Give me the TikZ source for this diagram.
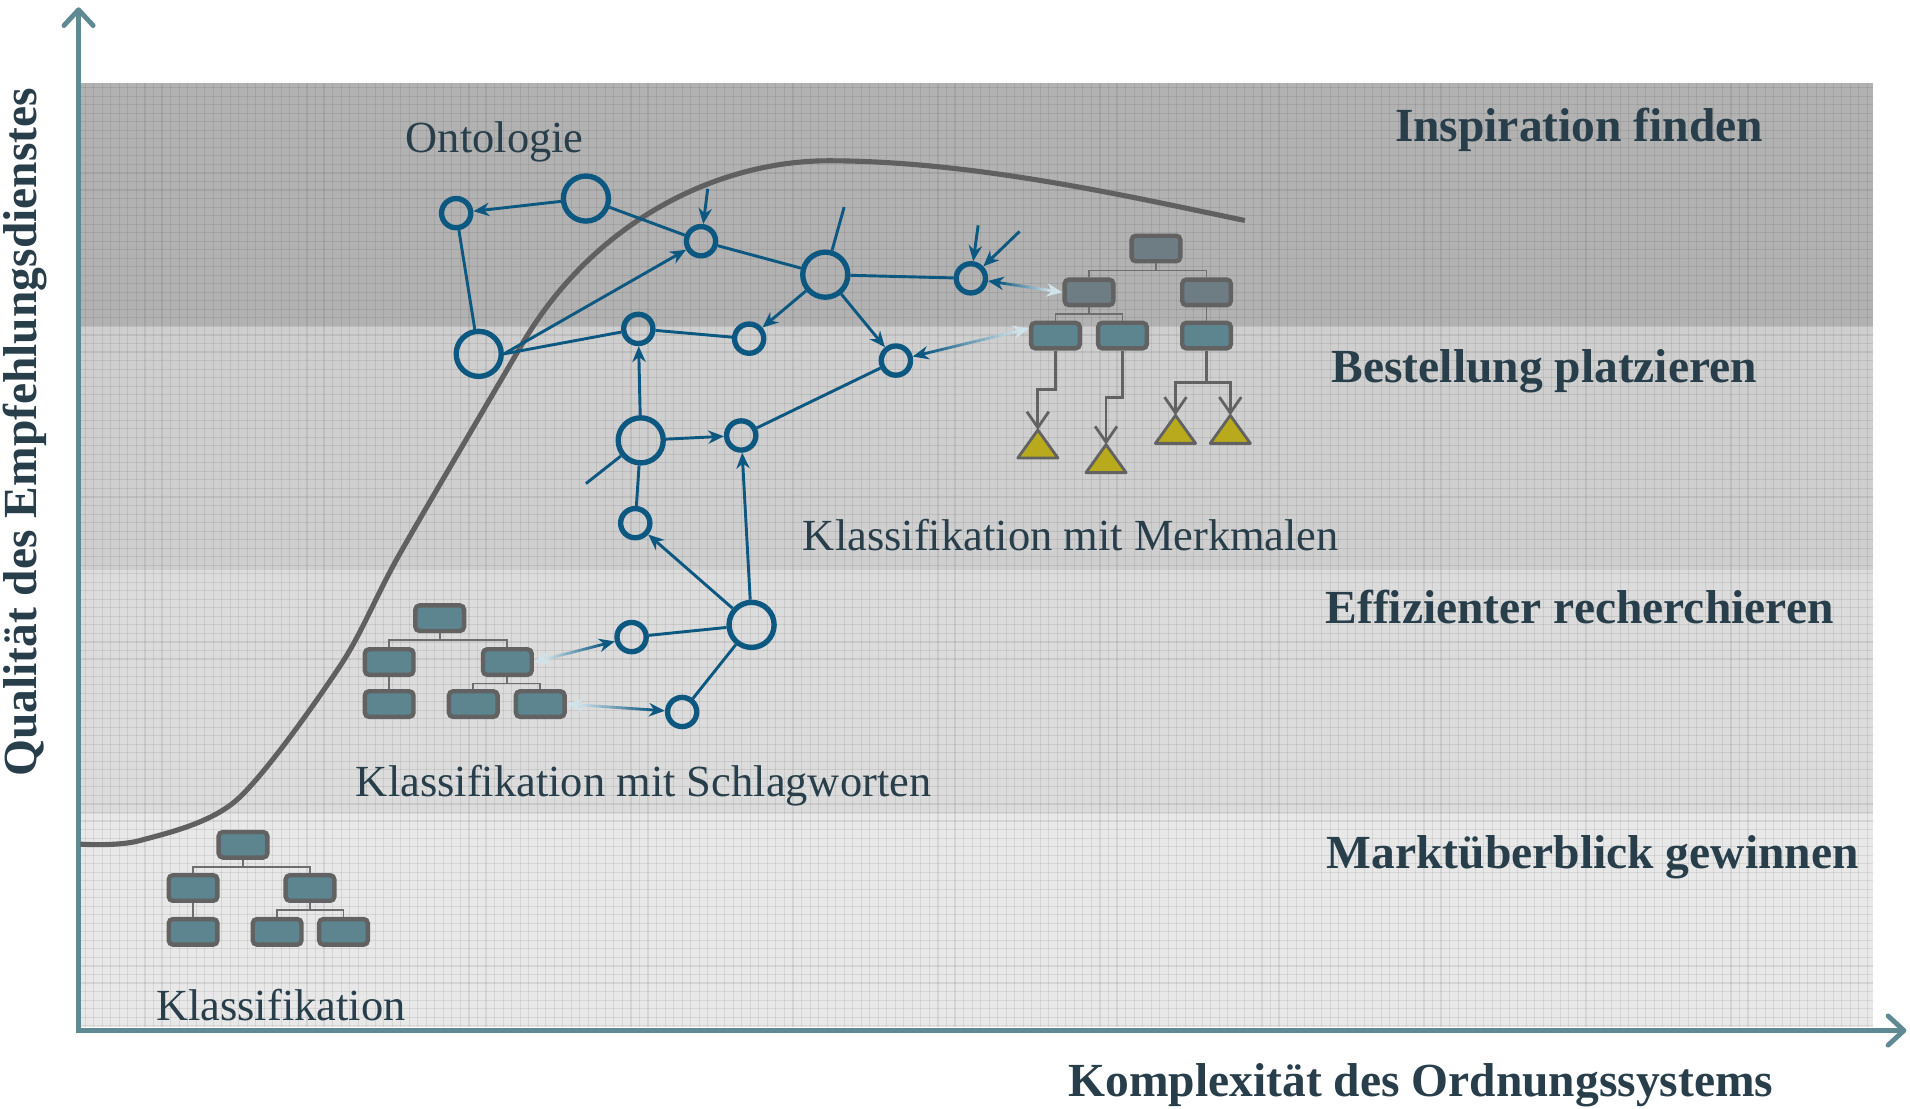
\documentclass[tikz,border=0pt]{standalone}
\usepackage{fontspec}
\setmainfont{Liberation Serif}
\usetikzlibrary{arrows.meta,calc}
\definecolor{nblue}{RGB}{12,88,128}
\definecolor{glight}{RGB}{208,226,234}
\definecolor{tdark}{RGB}{40,62,74}
\definecolor{axc}{RGB}{95,138,148}
\definecolor{boxteal}{RGB}{92,133,143}
\definecolor{boxgt}{RGB}{110,124,131}
\definecolor{boxgray}{RGB}{98,98,98}
\definecolor{congray}{RGB}{110,110,110}
\definecolor{olivey}{RGB}{184,170,28}
\definecolor{curvec}{RGB}{96,96,96}
\definecolor{bandA}{RGB}{178,178,178}
\definecolor{bandB}{RGB}{207,207,207}
\definecolor{bandC}{RGB}{220,220,220}
\definecolor{bandD}{RGB}{232,232,232}
\newcommand\gradlink[2]{%
  \path (#1) -- (#2) coordinate[pos=0] (gA) coordinate[pos=1] (gB);
  \coordinate (gA2) at ($(gA)!10pt!(gB)$);
  \coordinate (gB2) at ($(gB)!10pt!(gA)$);
  \foreach \k in {0,...,19}{%
    \pgfmathsetmacro\pa{\k/20}%
    \pgfmathsetmacro\pb{(\k+1.05)/20}%
    \pgfmathsetmacro\pc{100*(\k+0.5)/20}%
    \draw[line width=2.3pt, draw=nblue!\pc!glight] ($(gA2)!\pa!(gB2)$) -- ($(gA2)!\pb!(gB2)$);
  }
  \draw[ar] (gB2) -- (gB);
  \draw[ar, draw=glight, fill=glight] (gA2) -- (gA);
}
\begin{document}
\begin{tikzpicture}[x=1pt,y=-1pt,
  sn/.style={circle, draw=nblue, line width=4.4pt, minimum size=24pt, inner sep=0pt},
  ln/.style={sn, minimum size=37pt},
  ed/.style={draw=nblue, line width=2.4pt},
  ar/.style={ed, -{Stealth[length=13pt,width=11pt]}},
  tbox/.style={rectangle, rounded corners=3.5pt, fill=boxteal, draw=boxgray, line width=3.6pt, minimum width=40pt, minimum height=21pt, inner sep=0pt},
  gbox/.style={tbox, fill=boxgt},
  tcon/.style={draw=congray, line width=1.5pt},
  tarr/.style={draw=boxgray, line width=2.3pt, -{Straight Barb[length=13pt,width=18pt]}},
  tri/.style={fill=olivey, draw=boxgray, line width=2.3pt, line join=round},
  big/.style={font=\fontsize{39}{45}\selectfont\bfseries, text=tdark, inner sep=0pt},
  lab/.style={font=\fontsize{36.5}{42}\selectfont, text=tdark, inner sep=0pt},
  axis/.style={draw=axc, line width=4pt, -{Straight Barb[round,length=13pt,width=24pt]}},
  curvest/.style={draw=curvec, line width=4.2pt},
  gridl/.style={draw=black, opacity=0.08, line width=0.9pt}
]
\useasboundingbox (0,0) rectangle (1568,910);
% bands
\fill[bandA] (66.5,68) rectangle (1537.5,268);
\fill[bandB] (66.5,268) rectangle (1537.5,468);
\fill[bandC] (66.5,468) rectangle (1537.5,668);
\fill[bandD] (66.5,668) rectangle (1537.5,843);
\foreach \gx in {70,77,...,1537}{\draw[gridl] (\gx,68) -- (\gx,843);}
\foreach \gy in {72,79,...,843}{\draw[gridl] (66.5,\gy) -- (1537.5,\gy);}
% axes
\coordinate (org) at (64.5,846);
\coordinate (ytop) at (64.5,6);
\coordinate (xend) at (1565,846);
\draw[axis] (org) -- (ytop);
\draw[axis] (62.5,846) -- (xend);
% curve
\draw[curvest] plot[smooth,tension=0.5] coordinates {(66,693) (115,690) (194,657) (279,547) (328,455) (426,287)}
  .. controls (486,181) and (590,132) .. (680,132)
  .. controls (800,132) and (930,162) .. (1022,181);
% network nodes
\node[sn] (A) at (374.5,175) {};
\node[ln] (B) at (481,163) {};
\node[sn] (C) at (575.5,198) {};
\node[ln] (D) at (677.5,225.5) {};
\node[sn] (E) at (797,228.5) {};
\node[ln] (F) at (393,290.5) {};
\node[sn] (G) at (524,270) {};
\node[sn] (H) at (615,278) {};
\node[sn] (I) at (735.5,296) {};
\node[ln] (J) at (526,361.5) {};
\node[sn] (K) at (608.5,357.5) {};
\node[sn] (L) at (521.5,429.5) {};
\node[ln] (M) at (617,513) {};
\node[sn] (N) at (518.5,523) {};
\node[sn] (O) at (560,584.5) {};
% network edges
\draw[ar] (B) -- (A);
\draw[ed] (A) -- (F);
\draw[ed] (B) -- (C);
\coordinate (cs) at (581,155);
\draw[ar] (cs) -- (C);
\draw[ar] (F.east) -- (C);
\draw[ed] (F.east) -- (G);
\draw[ed] (G) -- (H);
\draw[ed] (C) -- (D);
\coordinate (ds) at (693,170);
\draw[ed] (ds) -- (D);
\draw[ed] (D) -- (E);
\draw[ar] (D) -- (H);
\draw[ar] (D) -- (I);
\coordinate (es1) at (803,185);
\coordinate (es2) at (837,190);
\draw[ar] (es1) -- (E);
\draw[ar] (es2) -- (E);
\draw[ar] (J) -- (G);
\draw[ar] (J) -- (K);
\coordinate (js) at (481,397);
\draw[ed] (js) -- (J);
\draw[ed] (J) -- (L);
\draw[ar] (M) -- (L);
\draw[ar] (M) -- (K);
\draw[ed] (K) -- (I);
\draw[ed] (N) -- (M);
\draw[ed] (M) -- (O);
% tree 1
\node[tbox] (k1) at (199.5,693.5) {};
\node[tbox] (k2) at (158.5,729) {};
\node[tbox] (k3) at (254.5,729) {};
\node[tbox] (k4) at (158.5,765) {};
\node[tbox] (k5) at (227.5,765) {};
\node[tbox] (k6) at (282,765) {};
\draw[tcon] (k1.south) -- ++(0,6.2) coordinate (k1j) -| (k2.north);
\draw[tcon] (k1j) -| (k3.north);
\draw[tcon] (k2.south) -- (k4.north);
\draw[tcon] (k3.south) -- ++(0,5.8) coordinate (k3j) -| (k5.north);
\draw[tcon] (k3j) -| (k6.north);
% tree 2
\node[tbox] (s1) at (361,507.5) {};
\node[tbox] (s2) at (319.5,543.5) {};
\node[tbox] (s3) at (416.5,543.5) {};
\node[tbox] (s4) at (319.5,578) {};
\node[tbox] (s5) at (388.5,578) {};
\node[tbox] (s6) at (443.5,578) {};
\draw[tcon] (s1.south) -- ++(0,5.8) coordinate (s1j) -| (s2.north);
\draw[tcon] (s1j) -| (s3.north);
\draw[tcon] (s2.south) -- (s4.north);
\draw[tcon] (s3.south) -- ++(0,5.3) coordinate (s3j) -| (s5.north);
\draw[tcon] (s3j) -| (s6.north);
% tree 3
\node[gbox] (m1) at (949,204) {};
\node[gbox] (m2) at (894,240) {};
\node[gbox] (m3) at (990.5,240) {};
\node[tbox] (m4) at (866.5,275.5) {};
\node[tbox] (m5) at (921.5,275.5) {};
\node[tbox] (m6) at (990.5,275.5) {};
\draw[tcon] (m1.south) -- ++(0,5.8) coordinate (m1j) -| (m2.north);
\draw[tcon] (m1j) -| (m3.north);
\draw[tcon] (m2.south) -- ++(0,5.8) coordinate (m2j) -| (m4.north);
\draw[tcon] (m2j) -| (m5.north);
\draw[tcon] (m3.south) -- (m6.north);
% triangles
\coordinate (t1) at (852,353);
\coordinate (t2) at (908,365);
\coordinate (t3) at (965,341);
\coordinate (t4) at (1010,341);
\foreach \t in {t1,t2,t3,t4}{\draw[tri] (\t) -- ++(16.5,23) -- ++(-33,0) -- cycle;}
\draw[tarr] (m4.south) -- ++(0,32.2) -| (t1);
\draw[tarr] (m5.south) -- ++(0,38.2) -| (t2);
\draw[tarr] (m6.south) -- ++(0,26.2) coordinate (m6j) -| (t3);
\draw[tarr] (m6j) -| (t4);
% gradient links
\gradlink{s3.east}{N}
\gradlink{s6.east}{O}
\gradlink{m2.west}{E}
\gradlink{m4.165}{I}
% labels
\node[big, anchor=base west] (li) at (1145,116) {Inspiration finden};
\node[big, anchor=base west] (lb) at (1093,314) {Bestellung platzieren};
\node[big, anchor=base west] (le) at (1088,512) {Effizienter recherchieren};
\node[big, anchor=base west] (lm) at (1089,713) {Marktüberblick gewinnen};
\node[big, anchor=base west] (lx) at (877,900) {Komplexität des Ordnungssystems};
\node[big, rotate=90, anchor=base west] (ly) at (30,638) {Qualität des Empfehlungsdienstes};
\node[lab, anchor=base west] (lo) at (333,125) {Ontologie};
\node[lab, anchor=base west] (lkm) at (659,452) {Klassifikation mit Merkmalen};
\node[lab, anchor=base west] (lks) at (292,654) {Klassifikation mit Schlagworten};
\node[lab, anchor=base west] (lk) at (128,838) {Klassifikation};
\end{tikzpicture}
\end{document}
